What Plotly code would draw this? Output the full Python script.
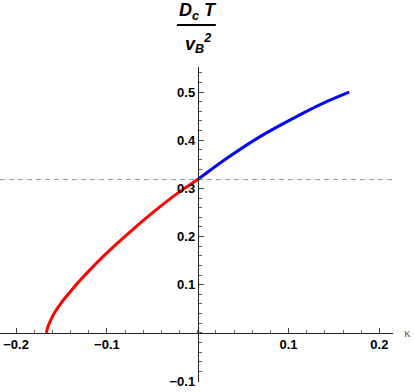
import plotly.graph_objects as go

# values
kappa_red = [-0.1667, -0.1650, -0.1620, -0.1570, -0.1500, -0.1400, -0.1300, -0.1150,
             -0.1000, -0.0850, -0.0700, -0.0500, -0.0250, 0.0]
d_red = [0.0, 0.012, 0.026, 0.044, 0.063, 0.086, 0.108, 0.138,
         0.166, 0.192, 0.217, 0.249, 0.286, 0.3183]

kappa_blue = [0.0, 0.0333, 0.0700, 0.1066, 0.1430, 0.1667]
d_blue = [0.3183, 0.364, 0.409, 0.447, 0.481, 0.500]

dash_level = 0.3183

x_ticks = [-0.2, -0.1, 0.1, 0.2]
x_labels = ["−0.2", "−0.1", "0.1", "0.2"]
y_ticks = [-0.1, 0.1, 0.2, 0.3, 0.4, 0.5]
y_labels = ["−0.1", "0.1", "0.2", "0.3", "0.4", "0.5"]

x_range = [-0.2177, 0.215]
y_range = [-0.102, 0.552]

fig = go.Figure()
fig.add_trace(go.Scatter(x=kappa_red, y=d_red, mode="lines",
                         line=dict(color="#ff0000", width=3, shape="spline", smoothing=0.8),
                         cliponaxis=False))
fig.add_trace(go.Scatter(x=kappa_blue, y=d_blue, mode="lines",
                         line=dict(color="#0000ff", width=3, shape="spline"),
                         cliponaxis=False))
fig.add_hline(y=dash_level, line=dict(color="#999999", width=1, dash="5px,4px"),
              layer="below")

tickfont = dict(family="Liberation Sans, Arial", size=13, color="#000", weight="bold")
yzero = (0 - y_range[0]) / (y_range[1] - y_range[0])
xzero = (0 - x_range[0]) / (x_range[1] - x_range[0])

fig.update_layout(
    width=415, height=392,
    margin=dict(l=0, r=22, t=67, b=10),
    plot_bgcolor="white", paper_bgcolor="white",
    showlegend=False,
    xaxis=dict(range=x_range, anchor="free", position=yzero,
               showgrid=False, zeroline=False, showline=True,
               linecolor="#222", linewidth=1,
               ticks="inside", ticklen=5, tickcolor="#444",
               tickvals=x_ticks, ticktext=x_labels, tickfont=tickfont,
               minor=dict(dtick=0.02, tick0=0, ticks="inside", ticklen=3,
                          tickcolor="#666", showgrid=False),
               automargin=False),
    yaxis=dict(range=y_range, anchor="free", position=xzero,
               showgrid=False, zeroline=False, showline=True,
               linecolor="#222", linewidth=1,
               ticks="inside", ticklen=5, tickcolor="#444",
               tickvals=y_ticks, ticktext=y_labels, tickfont=tickfont,
               minor=dict(dtick=0.02, tick0=0, ticks="inside", ticklen=3,
                          tickcolor="#666", showgrid=False),
               automargin=False),
)

# y label as a fraction above the axis
labfont = dict(family="Liberation Sans, Arial", size=18, color="#000")
fig.add_annotation(text="<b><i>D<sub>c</sub> T</i></b>", xref="paper", yref="paper",
                   x=xzero, y=1, yshift=56, yanchor="middle", showarrow=False, font=labfont)
fig.add_annotation(text="<b><i>v<sub>B</sub><sup>2</sup></i></b>", xref="paper", yref="paper",
                   x=xzero, y=1, yshift=24, yanchor="middle", showarrow=False, font=labfont)
fig.add_shape(type="line", xref="paper", yref="paper", x0=xzero - 0.053, x1=xzero + 0.046,
              y0=42, y1=42, ysizemode="pixel", yanchor=1,
              line=dict(color="#000", width=2))
fig.add_annotation(text="κ", xref="paper", yref="y", x=1, y=0, xanchor="center",
                   xshift=14, showarrow=False,
                   font=dict(family="Liberation Serif", size=13, color="#666"))

fig.update_layout(modebar=dict(remove=["zoom", "pan"]))

# the page body has a default 8px margin; drop it so the figure sits at the corner
fig.write_html("out.html", config={"displayModeBar": False},
               post_script="document.body.style.margin='0';")
